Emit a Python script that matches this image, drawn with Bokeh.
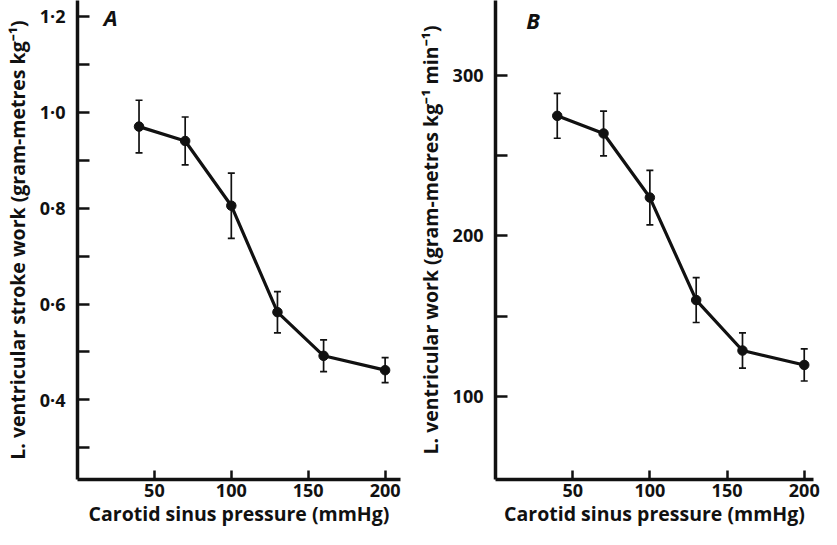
from bokeh.plotting import figure
from bokeh.layouts import row
from bokeh.models import (Range1d, FixedTicker, CustomJSTickFormatter, ColumnDataSource,
                          Whisker, TeeHead, Label)
from bokeh.embed import file_html
from bokeh.resources import INLINE

# ---- data ----
pressure = [40, 70, 100, 130, 160, 200]            # carotid sinus pressure, mmHg
stroke_work = [0.970, 0.940, 0.805, 0.583, 0.492, 0.462]   # panel A
stroke_work_err = [0.055, 0.050, 0.068, 0.043, 0.033, 0.026]
lv_work = [275, 264, 224, 160, 128.5, 119.5]               # panel B
lv_work_err = [14, 14, 17, 14, 11, 10]

x_ticks = [50, 100, 150, 200]
a_major = [0.4, 0.6, 0.8, 1.0, 1.2]
a_minor = [0.3, 0.5, 0.7, 0.9, 1.1]
b_major = [100, 200, 300]
b_minor = [150, 250]

x_label = "Carotid sinus pressure (mmHg)"
a_ylabel = "L. ventricular stroke work (gram-metres kg\u207b\u00b9)"
b_ylabel = "L. ventricular work (gram-metres kg\u207b\u00b9 min\u207b\u00b9)"

FONT = "Open Sans"
INK = "#111111"


def style(p):
    p.outline_line_color = None
    p.grid.visible = False
    p.background_fill_color = "white"
    p.border_fill_color = "white"
    for ax in (p.xaxis[0], p.yaxis[0]):
        ax.axis_line_width = 3.5
        ax.axis_line_color = INK
        ax.major_tick_line_width = 2.5
        ax.major_tick_line_color = INK
        ax.minor_tick_line_width = 2.5
        ax.minor_tick_line_color = INK
        ax.major_tick_out = 0
        ax.minor_tick_out = 0
        ax.major_label_text_font = FONT
        ax.major_label_text_font_size = "18px"
        ax.major_label_text_font_style = "bold"
        ax.major_label_text_color = INK
        ax.axis_label_text_font = FONT
        ax.axis_label_text_font_size = "19.5px"
        ax.axis_label_text_font_style = "bold"
        ax.axis_label_text_color = INK
    p.xaxis[0].major_tick_in = 9
    p.xaxis[0].minor_tick_in = 0
    p.yaxis[0].major_tick_in = 12
    p.yaxis[0].minor_tick_in = 12
    p.xaxis[0].ticker = FixedTicker(ticks=x_ticks, minor_ticks=[])
    p.xaxis[0].major_label_standoff = 4
    p.xaxis[0].axis_label_standoff = 0
    p.yaxis[0].major_label_standoff = 12
    p.yaxis[0].axis_label_standoff = 6
    p.xaxis[0].axis_label = x_label


def draw(p, xs, ys, errs):
    lower = [y - e for y, e in zip(ys, errs)]
    upper = [y + e for y, e in zip(ys, errs)]
    src = ColumnDataSource(dict(x=xs, y=ys, lower=lower, upper=upper))
    w = Whisker(base="x", lower="lower", upper="upper", source=src,
                line_width=1.7, line_color=INK,
                upper_head=TeeHead(size=7, line_width=1.7, line_color=INK),
                lower_head=TeeHead(size=7, line_width=1.7, line_color=INK))
    p.add_layout(w)
    p.line("x", "y", source=src, line_width=3.2, line_color=INK)
    p.scatter("x", "y", source=src, size=9.5, fill_color=INK, line_color=INK)


# ---- panel A ----
pA = figure(width=412, height=529, output_backend="svg", toolbar_location=None,
            x_range=Range1d(0, 210), y_range=Range1d(0.234, 1.233),
            min_border_left=72, min_border_right=12, min_border_top=0, min_border_bottom=50)
style(pA)
pA.yaxis[0].ticker = FixedTicker(ticks=a_major, minor_ticks=a_minor)
pA.yaxis[0].formatter = CustomJSTickFormatter(code="return tick.toFixed(1).replace('.', '\u00b7');")
pA.yaxis[0].axis_label = a_ylabel
draw(pA, pressure, stroke_work, stroke_work_err)
pA.add_layout(Label(x=17, y=1.198, text="A", text_font=FONT, text_font_size="22px",
                    text_font_style="bold italic", text_baseline="middle", text_align="left",
                    text_color=INK))

# ---- panel B ----
pB = figure(width=409, height=529, output_backend="svg", toolbar_location=None,
            x_range=Range1d(0, 206), y_range=Range1d(48, 347),
            min_border_left=83, min_border_right=8, min_border_top=0, min_border_bottom=50)
style(pB)
pB.yaxis[0].ticker = FixedTicker(ticks=b_major, minor_ticks=b_minor)
pB.yaxis[0].axis_label = b_ylabel
draw(pB, pressure, lv_work, lv_work_err)
pB.add_layout(Label(x=20, y=335, text="B", text_font=FONT, text_font_size="22px",
                    text_font_style="bold italic", text_baseline="middle", text_align="left",
                    text_color=INK))

layout = row(pA, pB, spacing=0)
open("out.html", "w").write(file_html(layout, INLINE))
